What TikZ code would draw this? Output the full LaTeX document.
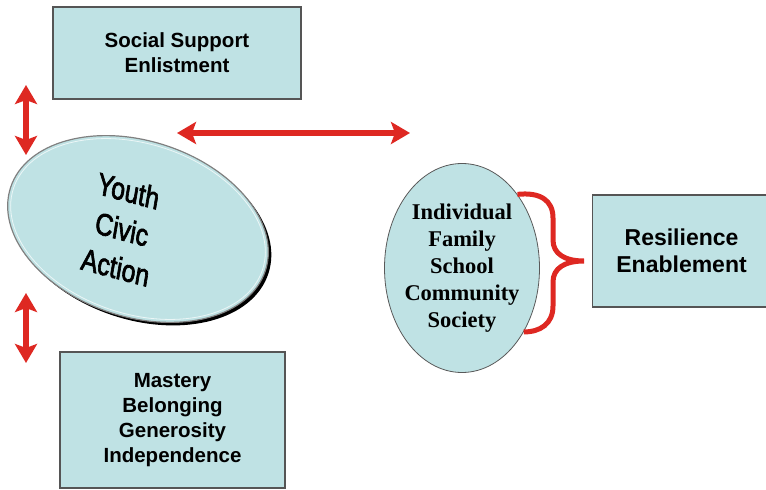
\documentclass[tikz,border=0pt]{standalone}
\usepackage{fontspec}
\setmainfont{Liberation Serif}
\setsansfont{Liberation Sans}
\newfontfamily\heavysans[FakeBold=2.5]{Liberation Sans}
\usepackage{tikz}
\usetikzlibrary{arrows.meta, positioning, shapes.geometric}

\definecolor{paleteal}{RGB}{191,226,228}
\definecolor{linkred}{RGB}{222,40,34}
\definecolor{edgegray}{RGB}{85,85,85}

\begin{document}
\begin{tikzpicture}[
  x=1pt, y=-1pt,
  node distance=1cm and 0.8cm,
  box/.style={draw=edgegray, line width=1.3pt, fill=paleteal, align=center, inner sep=0pt,
    font=\sffamily\bfseries\fontsize{20.5}{25}\selectfont},
  arrow/.style={draw=linkred, line width=6pt,
    {Stealth[length=19pt,width=22pt,inset=4pt]}-{Stealth[length=19pt,width=22pt,inset=4pt]}},
  roundnode/.style={ellipse, draw=edgegray, fill=paleteal, inner sep=0pt},
  curly/.style={draw=linkred, line width=5pt},
]
\useasboundingbox (0,0) rectangle (766,490);

% Nodes
\node[roundnode, fill=black, draw=none, minimum width=268pt, minimum height=176pt,
  rotate=-18] (youthshade) at (141,232) {};
\node[roundnode, draw=gray, line width=1.2pt, minimum width=268pt, minimum height=176pt,
  rotate=-18] (youth) at (138,229) {};
\node[ellipse, draw=white, opacity=0.7, line width=0.8pt, minimum width=262pt,
  minimum height=170pt, rotate=-18] (youthrim) at (138,229) {};
\node[align=center, xscale=0.8, rotate=-12, font=\heavysans\fontsize{31}{39}\selectfont]
  (youthtxt) at (122,229) {Youth\\Civic\\Action};

\node[box, minimum width=248pt, minimum height=92pt] (social) at (177,53)
  {Social Support\\Enlistment};
\node[box, minimum width=225pt, minimum height=136pt] (mastery) at (172.5,420)
  {Mastery\\Belonging\\Generosity\\Independence};

\node[roundnode, draw=gray!70!black, line width=0.8pt, minimum width=155pt,
  minimum height=209pt, inner sep=-14pt, align=center,
  font=\rmfamily\bfseries\fontsize{22.5}{27}\selectfont]
  (ring) at (462,268) {Individual\\Family\\School\\Community\\Society};
\node[box, minimum width=178pt, minimum height=112pt, right=52pt of ring, yshift=17pt,
  font=\sffamily\bfseries\fontsize{23}{27}\selectfont] (resil) {Resilience\\Enablement};

% Arrow ends
\coordinate (upTop) at (26,85);
\coordinate (upBot) at (26,155);
\coordinate (lowTop) at (26,293);
\coordinate (lowBot) at (26,363);
\coordinate (midL) at (177,133);
\coordinate (midR) at (410,133);

% Arrows
\draw[arrow] (upTop) -- (upBot);
\draw[arrow] (lowTop) -- (lowBot);
\draw[arrow] (midL) -- (midR);

% Brace
\draw[curly] (ring.53) .. controls (540,192) and (553,200) .. (553,218) -- (553,240)
  .. controls (553,254) and (565,261) .. (584,261)
  .. controls (565,261) and (553,268) .. (553,282) -- (553,306)
  .. controls (553,324) and (540,332) .. (ring.-46);
\end{tikzpicture}
\end{document}
